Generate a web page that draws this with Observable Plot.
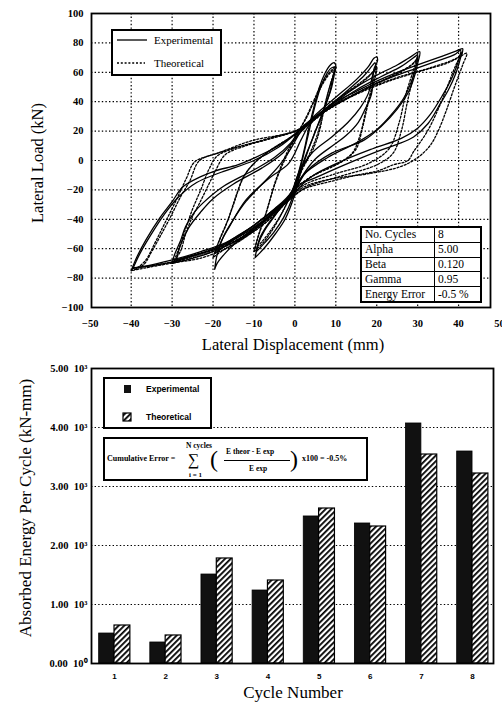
<!DOCTYPE html>
<html><head><meta charset="utf-8">
<script src="https://cdn.jsdelivr.net/npm/d3@7"></script>
<script src="https://cdn.jsdelivr.net/npm/@observablehq/plot@0.6"></script>
<style>
body{margin:0;background:#fff;}
#wrap{position:relative;width:502px;height:703px;overflow:hidden;background:#fff;font-family:"Liberation Serif","Times New Roman",serif;color:#000;}
#wrap svg{position:absolute;left:0;}
.t{position:absolute;white-space:nowrap;line-height:1;}
.box{position:absolute;border:2px solid #000;background:#fff;box-sizing:border-box;}
table.params{position:absolute;border-collapse:collapse;border:2px solid #000;background:#fff;font-size:11.5px;}
table.params td{border:1.3px solid #000;padding:0 3px;height:13.4px;line-height:13px;}
</style></head>
<body><div id="wrap"></div>
<script>
// ---------- DATA ----------
// Top panel: hysteresis loops [displacement mm, load kN]
const xTicksTop = [-50, -40, -30, -20, -10, 0, 10, 20, 30, 40, 50];
const yTicksTop = [-100, -80, -60, -40, -20, 0, 20, 40, 60, 80, 100];
const gridXTop = [-40, -30, -20, -10, 0, 10, 20, 30, 40];
const gridYTop = [-80, -60, -40, -20, 0, 20, 40, 60, 80];

const expCycle1 = [[-9.7,-66],[-9.0,-57],[-7.5,-48],[-5.0,-38],[-2.4,-28],[-0.5,-20],[1.2,-5],[2.5,10],[3.4,22],[4.8,38],[6.0,50],[7.3,59],[8.5,64.5],[9.6,66.5],[10.0,64.5],[9.6,58],[9.0,50],[7.8,40],[6.5,30],[4.6,17],[3.0,5],[1.2,-10],[0.0,-23],[-2.4,-40],[-4.8,-50],[-7.0,-58],[-8.6,-63],[-9.7,-66]];
const expCycle2 = [[-9.4,-62],[-8.6,-53],[-7.0,-45],[-4.6,-36],[-2.2,-27],[-0.3,-19],[1.5,-3],[2.8,12],[3.8,24],[5.0,38],[6.3,50],[7.6,58],[8.7,62.5],[9.5,63.5],[9.6,61],[9.2,56],[8.6,47],[7.4,37],[6.0,27],[4.2,14],[2.6,3],[0.8,-12],[-0.4,-24],[-2.8,-39],[-5.2,-49],[-7.4,-56],[-9.4,-62]];
const expCycle3 = [[-19.6,-74],[-19.0,-64],[-17.5,-52],[-15.0,-40],[-12.0,-28],[-8.0,-16],[-4.0,-4],[-1.0,8],[1.5,20],[5.0,31],[10.0,43],[15.0,55],[18.0,64],[19.3,69.5],[20.0,70.5],[20.2,68],[19.3,62],[18.7,45],[17.0,34],[15.5,26],[12.5,17],[9.7,11],[5.0,1],[1.5,-12],[-0.5,-23],[-5.0,-35],[-10.0,-46],[-14.0,-55],[-17.0,-63],[-19.0,-70],[-19.6,-74]];
const expCycle4 = [[-18.9,-62],[-18.0,-55],[-16.0,-45],[-12.0,-27],[-6.3,-12],[-1.5,-2],[1.5,14],[3.5,24],[8.0,36],[13.0,48],[17.0,58],[18.9,64.5],[19.6,66.5],[19.7,63],[19.0,58],[18.0,46],[16.0,36],[13.0,26],[9.0,16],[4.5,6],[1.0,-8],[-1.0,-22],[-5.0,-33],[-10.0,-44],[-14.0,-52],[-17.0,-58],[-18.9,-62]];
const expCycle5 = [[-30.0,-70],[-29.4,-64],[-28.0,-55],[-26.7,-45],[-24.5,-35],[-22.5,-29],[-17.7,-18],[-10.4,-7],[-5.0,2],[-1.0,12],[1.5,22],[6.0,32],[10.0,40],[15.0,50],[20.0,58],[25.0,65],[28.0,70],[30.5,74],[30.0,66],[29.5,60],[28.0,48],[25.0,35],[21.0,23],[17.0,14],[9.0,5],[3.0,-7],[-0.5,-22],[-5.0,-34],[-10.0,-47],[-16.0,-57],[-22.0,-64],[-27.0,-68],[-30.0,-70]];
const expCycle6 = [[-29.0,-68],[-28.0,-58],[-26.0,-46],[-23.0,-35],[-20.0,-26],[-15.0,-16],[-8.0,-5],[-3.0,5],[1.0,18],[4.0,27],[9.0,37],[15.0,48],[21.0,57],[26.0,64],[29.5,71],[30.0,72],[29.5,63],[28.5,54],[26.5,42],[23.5,31],[20.0,21],[15.0,12],[8.0,2],[2.0,-10],[-1.0,-24],[-6.0,-37],[-12.0,-49],[-18.0,-58],[-24.0,-64],[-29.0,-68]];
const expCycle7 = [[-40.0,-75],[-38.5,-65],[-36.4,-54],[-33.0,-39],[-30.0,-28],[-27.4,-18],[-23.0,-11],[-19.4,-7],[-14.0,-3],[-9.7,2],[-4.0,10],[0.0,18],[1.5,22],[6.0,32],[10.0,40],[15.0,47],[20.0,54],[25.0,60],[30.0,65],[35.0,70],[39.0,74],[41.0,76],[40.5,70],[39.3,59],[37.5,48],[35.6,39],[32.5,25],[29.0,16],[25.0,11],[21.0,7],[13.0,-2],[4.8,-12],[0.0,-18],[-0.7,-23],[-4.0,-31],[-6.3,-36],[-10.4,-45],[-14.5,-52],[-18.4,-59],[-22.5,-63],[-26.7,-66],[-30.0,-69],[-34.7,-71.5],[-39.5,-73.5],[-40.0,-75]];
const expCycle8 = [[-39.5,-73],[-38.0,-64],[-35.5,-52],[-32.0,-37],[-28.5,-25],[-24.0,-15],[-18.0,-8],[-10.0,0],[-4.0,9],[0.5,19],[2.0,23],[7.0,33],[12.0,41],[18.0,50],[24.0,57],[30.0,63],[35.0,68],[39.0,72],[40.5,75],[40.0,68],[38.5,57],[36.0,44],[33.0,31],[30.0,22],[26.0,15],[19.0,8],[11.0,-1],[4.0,-11],[0.5,-20],[-2.0,-27],[-7.0,-38],[-12.0,-48],[-17.0,-56],[-23.0,-62],[-29.0,-67],[-35.0,-71],[-39.5,-73]];

const theoCycle1 = [[-10.0,-62],[-9.0,-52],[-7.5,-40],[-6.0,-26],[-4.5,-12],[-2.0,5],[0.5,18],[2.5,28],[4.5,40],[6.5,52],[8.5,60],[10.0,64],[9.0,55],[8.0,45],[7.0,33],[6.0,20],[4.5,8],[2.0,-5],[0.0,-18],[-2.5,-32],[-5.0,-45],[-7.5,-55],[-10.0,-62]];
const theoCycle2 = [[-9.8,-60],[-8.8,-50],[-7.2,-37],[-5.6,-22],[-3.8,-8],[-1.2,8],[1.0,20],[3.0,30],[5.0,42],[7.0,53],[8.8,60],[9.8,62],[8.7,52],[7.6,41],[6.5,28],[5.3,16],[3.5,4],[1.2,-8],[-0.8,-22],[-3.0,-35],[-5.5,-46],[-8.0,-55],[-9.8,-60]];
const theoCycle3 = [[-20.0,-66],[-19.0,-58],[-17.0,-45],[-15.0,-30],[-13.0,-14],[-11.0,-5],[-7.0,5],[-2.0,14],[2.0,21],[6.0,32],[11.0,43],[16.0,52],[19.0,60],[20.0,64],[19.5,55],[18.0,40],[16.5,22],[15.0,8],[12.0,0],[6.0,-8],[1.0,-17],[-2.0,-28],[-7.0,-42],[-12.0,-52],[-17.0,-60],[-20.0,-66]];
const theoCycle4 = [[-19.5,-63],[-18.3,-53],[-16.3,-40],[-14.5,-25],[-12.5,-11],[-10.0,-2],[-6.0,7],[-1.0,16],[2.5,23],[7.0,34],[12.0,45],[16.5,54],[19.0,60],[19.8,62],[19.0,52],[17.5,36],[16.0,18],[14.0,5],[10.0,-3],[4.0,-11],[0.0,-20],[-3.0,-31],[-8.0,-44],[-13.0,-53],[-17.5,-59],[-19.5,-63]];
const theoCycle5 = [[-30.0,-70],[-28.0,-62],[-26.7,-50],[-25.0,-38],[-23.3,-29],[-21.0,-16],[-19.4,-7],[-17.0,4],[-12.0,10],[-5.0,16],[1.0,21],[5.0,29],[10.0,38],[18.0,50],[24.0,58],[29.0,66],[30.0,70],[29.0,58],[27.5,40],[26.0,20],[24.0,5],[20.0,-3],[12.0,-10],[3.0,-18],[-1.0,-26],[-7.0,-40],[-13.0,-52],[-20.0,-61],[-26.0,-66],[-30.0,-70]];
const theoCycle6 = [[-29.5,-68],[-28.5,-61],[-27.0,-49],[-25.0,-33],[-23.0,-20],[-21.0,-6],[-19.0,3],[-14.0,9],[-7.0,14],[0.0,20],[4.0,27],[9.0,36],[16.0,47],[22.0,55],[27.0,62],[29.5,68],[30.0,71],[28.8,60],[27.0,44],[25.5,26],[23.0,8],[18.0,-2],[10.0,-9],[2.0,-17],[-2.0,-28],[-8.0,-42],[-15.0,-54],[-22.0,-62],[-27.0,-66],[-29.5,-68]];
const theoCycle7 = [[-40.0,-75],[-37.0,-71],[-35.0,-62],[-33.0,-52],[-30.5,-39],[-28.0,-25],[-25.7,-14],[-23.3,0],[-18.4,5.4],[-10.4,13.6],[-2.4,18],[2.0,22],[5.0,28],[9.0,37],[17.0,48],[25.0,56.5],[33.0,63],[39.7,70],[41.0,74],[39.5,66],[37.5,52],[35.5,38],[32.4,20],[29.0,6],[27.6,0],[24.0,-3],[20.3,-7],[15.0,-10],[9.7,-13.6],[1.7,-20],[-1.5,-27],[-8.0,-43],[-14.5,-56.5],[-22.5,-66],[-30.5,-70],[-36.4,-73],[-40.0,-75]];
const theoCycle8 = [[-38.5,-73],[-36.5,-68],[-34.0,-55],[-31.5,-41],[-29.0,-27],[-26.5,-12],[-24.5,-1],[-20.0,4],[-13.0,10],[-5.0,16],[1.0,21],[4.0,27],[8.0,35],[15.0,45],[23.0,54],[31.0,61],[37.0,66],[40.0,70],[42.0,73],[41.0,65],[39.0,50],[37.0,34],[35.0,20],[33.0,10],[30.0,2],[26.0,-4],[18.0,-9],[10.0,-12],[3.0,-17],[-1.0,-24],[-6.0,-38],[-12.0,-51],[-20.0,-62],[-28.0,-68],[-34.0,-71],[-38.5,-73]];

const paramNames = ["No. Cycles", "Alpha", "Beta", "Gamma", "Energy Error"];
const paramValues = ["8", "5.00", "0.120", "0.95", "-0.5 %"];

// Bottom panel: absorbed energy per cycle (kN-mm)
const cycleNumbers = [1, 2, 3, 4, 5, 6, 7, 8];
const expEnergy  = [508, 356, 1508, 1237, 2492, 2373, 4068, 3593];
const theoEnergy = [644, 475, 1780, 1407, 2627, 2322, 3542, 3220];
const yTicksBottom = [0, 1000, 2000, 3000, 4000, 5000];
const gridYBottom = [1000, 2000, 3000, 4000];

// ---------- BUILD ----------
const wrap = document.getElementById("wrap");
const toRows = (cycles) => cycles.flatMap((pts, k) => pts.map(([d, L]) => ({cycle: k + 1, d, L})));
const expRows = toRows([expCycle1, expCycle2, expCycle3, expCycle4, expCycle5, expCycle6, expCycle7, expCycle8]);
const theoRows = toRows([theoCycle1, theoCycle2, theoCycle3, theoCycle4, theoCycle5, theoCycle6, theoCycle7, theoCycle8]);

const dotted = {stroke: "#000", strokeOpacity: 1, strokeWidth: 1.2, strokeDasharray: "1.4,2.2"};

const topPlot = Plot.plot({
  width: 502, height: 330,
  marginLeft: 91, marginRight: 12, marginTop: 13, marginBottom: 23,
  style: {fontFamily: "'Liberation Serif', serif", fontSize: "10px", fontWeight: "bold", background: "transparent", overflow: "visible"},
  x: {domain: [-49.7, 47.8], label: null},
  y: {domain: [-100, 100], label: null},
  marks: [
    Plot.gridX(gridXTop, dotted),
    Plot.gridY(gridYTop, dotted),
    Plot.line(expRows, {x: "d", y: "L", z: "cycle", curve: "catmull-rom", stroke: "#000", strokeWidth: 1.3}),
    Plot.line(theoRows, {x: "d", y: "L", z: "cycle", curve: "catmull-rom", stroke: "#000", strokeWidth: 1.3, strokeDasharray: "2,1.8"}),
    Plot.frame({stroke: "#000", strokeWidth: 1.8}),
    Plot.axisX(xTicksTop, {tickSize: 0, tickPadding: 12, fontSize: 10.5, fontWeight: "bold"}),
    Plot.axisY(yTicksTop, {tickSize: 0, tickPadding: 8, fontSize: 10.5, fontWeight: "bold"})
  ]
});
topPlot.style.top = "0px";
wrap.appendChild(topPlot);

const botPlot = Plot.plot({
  width: 502, height: 373,
  marginLeft: 91, marginRight: 9, marginTop: 38, marginBottom: 40,
  style: {fontFamily: "'Liberation Serif', serif", fontSize: "9px", fontWeight: "bold", background: "transparent", overflow: "visible"},
  x: {domain: [0.55, 8.41], label: null},
  y: {domain: [0, 5000], label: null},
  marks: [
    Plot.gridY(gridYBottom, dotted),
    Plot.rect(cycleNumbers, {x1: (c) => c - 0.3, x2: (c) => c, y1: () => 0, y2: (c, i) => expEnergy[i], fill: "#111", stroke: "#000", strokeWidth: 0.8}),
    Plot.rect(cycleNumbers, {x1: (c) => c, x2: (c) => c + 0.31, y1: () => 0, y2: (c, i) => theoEnergy[i], fill: "url(#hatch)", stroke: "#000", strokeWidth: 1.2}),
    Plot.frame({stroke: "#000", strokeWidth: 1.8}),
    Plot.axisX(cycleNumbers, {tickSize: 0, tickPadding: 10, fontSize: 8, fontWeight: "bold", fontFamily: "'Liberation Sans', sans-serif"}),
    Plot.axisY(yTicksBottom, {tickSize: 0, tickPadding: 4, fontSize: 10.5, fontWeight: "bold",
      tickFormat: (v) => (v / 1000).toFixed(2) + "\u2002" + "10" + (v === 0 ? "\u2070" : "\u00B3")})
  ]
});
botPlot.style.top = "330px";
d3.select(botPlot).insert("defs", ":first-child").html(
  '<pattern id="hatch" patternUnits="userSpaceOnUse" width="4" height="4" patternTransform="rotate(45)">' +
  '<rect width="4" height="4" fill="#fff"/><rect width="1.8" height="4" fill="#000"/></pattern>');
wrap.appendChild(botPlot);

// ---------- TEXT / OVERLAYS ----------
function text(str, x, y, opts = {}) {
  const el = document.createElement("div");
  el.className = "t";
  el.textContent = str;
  el.style.left = x + "px";
  el.style.top = y + "px";
  el.style.fontSize = (opts.size || 16) + "px";
  if (opts.weight) el.style.fontWeight = opts.weight;
  if (opts.family) el.style.fontFamily = opts.family;
  el.style.transform = opts.rotate ? "translate(-50%,-50%) rotate(-90deg)" : (opts.anchor === "start" ? "translate(0,-50%)" : "translate(-50%,-50%)");
  wrap.appendChild(el);
  return el;
}
function box(x, y, w, h) {
  const el = document.createElement("div");
  el.className = "box";
  Object.assign(el.style, {left: x + "px", top: y + "px", width: w + "px", height: h + "px"});
  wrap.appendChild(el);
  return el;
}

// axis titles
text("Lateral Load (kN)", 38, 163, {size: 16.5, rotate: true});
text("Lateral Displacement (mm)", 293, 345, {size: 16.5});
text("Absorbed Energy Per Cycle (kN-mm)", 25, 508, {size: 17, rotate: true});
text("Cycle Number", 293, 692, {size: 17});

// top legend
box(111, 29, 111, 47);
const lg = document.createElementNS("http://www.w3.org/2000/svg", "svg");
lg.setAttribute("width", "502"); lg.setAttribute("height", "100");
lg.style.top = "0px"; lg.style.pointerEvents = "none";
lg.innerHTML = '<line x1="117" x2="147" y1="40" y2="40" stroke="#000" stroke-width="1.3"/>' +
  '<line x1="117" x2="145" y1="63" y2="63" stroke="#000" stroke-width="1.3" stroke-dasharray="2,1.8"/>';
wrap.appendChild(lg);
text("Experimental", 154, 40, {size: 11, anchor: "start"});
text("Theoretical", 154, 63, {size: 11, anchor: "start"});

// parameter table
const tbl = document.createElement("table");
tbl.className = "params";
Object.assign(tbl.style, {left: "360px", top: "226px", width: "122px", height: "77px"});
paramNames.forEach((n, i) => {
  const tr = document.createElement("tr");
  const a = document.createElement("td"); a.textContent = n; a.style.width = "66px";
  const b = document.createElement("td"); b.textContent = paramValues[i];
  tr.appendChild(a); tr.appendChild(b); tbl.appendChild(tr);
});
wrap.appendChild(tbl);

// bottom legend
box(103, 377, 109, 52);
const lg2 = document.createElementNS("http://www.w3.org/2000/svg", "svg");
lg2.setAttribute("width", "502"); lg2.setAttribute("height", "703");
lg2.style.top = "0px"; lg2.style.pointerEvents = "none";
lg2.innerHTML = '<rect x="124" y="385" width="7" height="8" fill="#111"/>' +
  '<rect x="123" y="413" width="8" height="8" fill="url(#hatch)" stroke="#000" stroke-width="1.2"/>';
wrap.appendChild(lg2);
const sans = "'Liberation Sans', Arial, sans-serif";
text("Experimental", 146, 389, {size: 8.5, weight: "bold", family: sans, anchor: "start"});
text("Theoretical", 146, 417, {size: 8.5, weight: "bold", family: sans, anchor: "start"});

// formula box
box(103, 437, 265, 44);
const fs = {size: 8, weight: "bold", anchor: "start"};
text("Cumulative Error =", 107, 459, fs);
text("\u2211", 188, 459.5, {size: 16, anchor: "start"});
text("N cycles", 186, 446, {size: 7.5, weight: "bold", anchor: "start"});
text("i = 1", 189, 474.5, {size: 7, weight: "bold", anchor: "start"});
text("(", 210, 459, {size: 24, anchor: "start"});
text("E theor -  E exp", 226, 452, {size: 7.5, weight: "bold", anchor: "start"});
const bar = document.createElement("div");
Object.assign(bar.style, {position: "absolute", left: "224px", top: "460px", width: "66px", height: "1px", background: "#000"});
wrap.appendChild(bar);
text("E exp", 249, 469, {size: 7.5, weight: "bold", anchor: "start"});
text(")", 290, 459, {size: 24, anchor: "start"});
text("x100 = -0.5%", 302, 459, fs);
</script></body></html>
